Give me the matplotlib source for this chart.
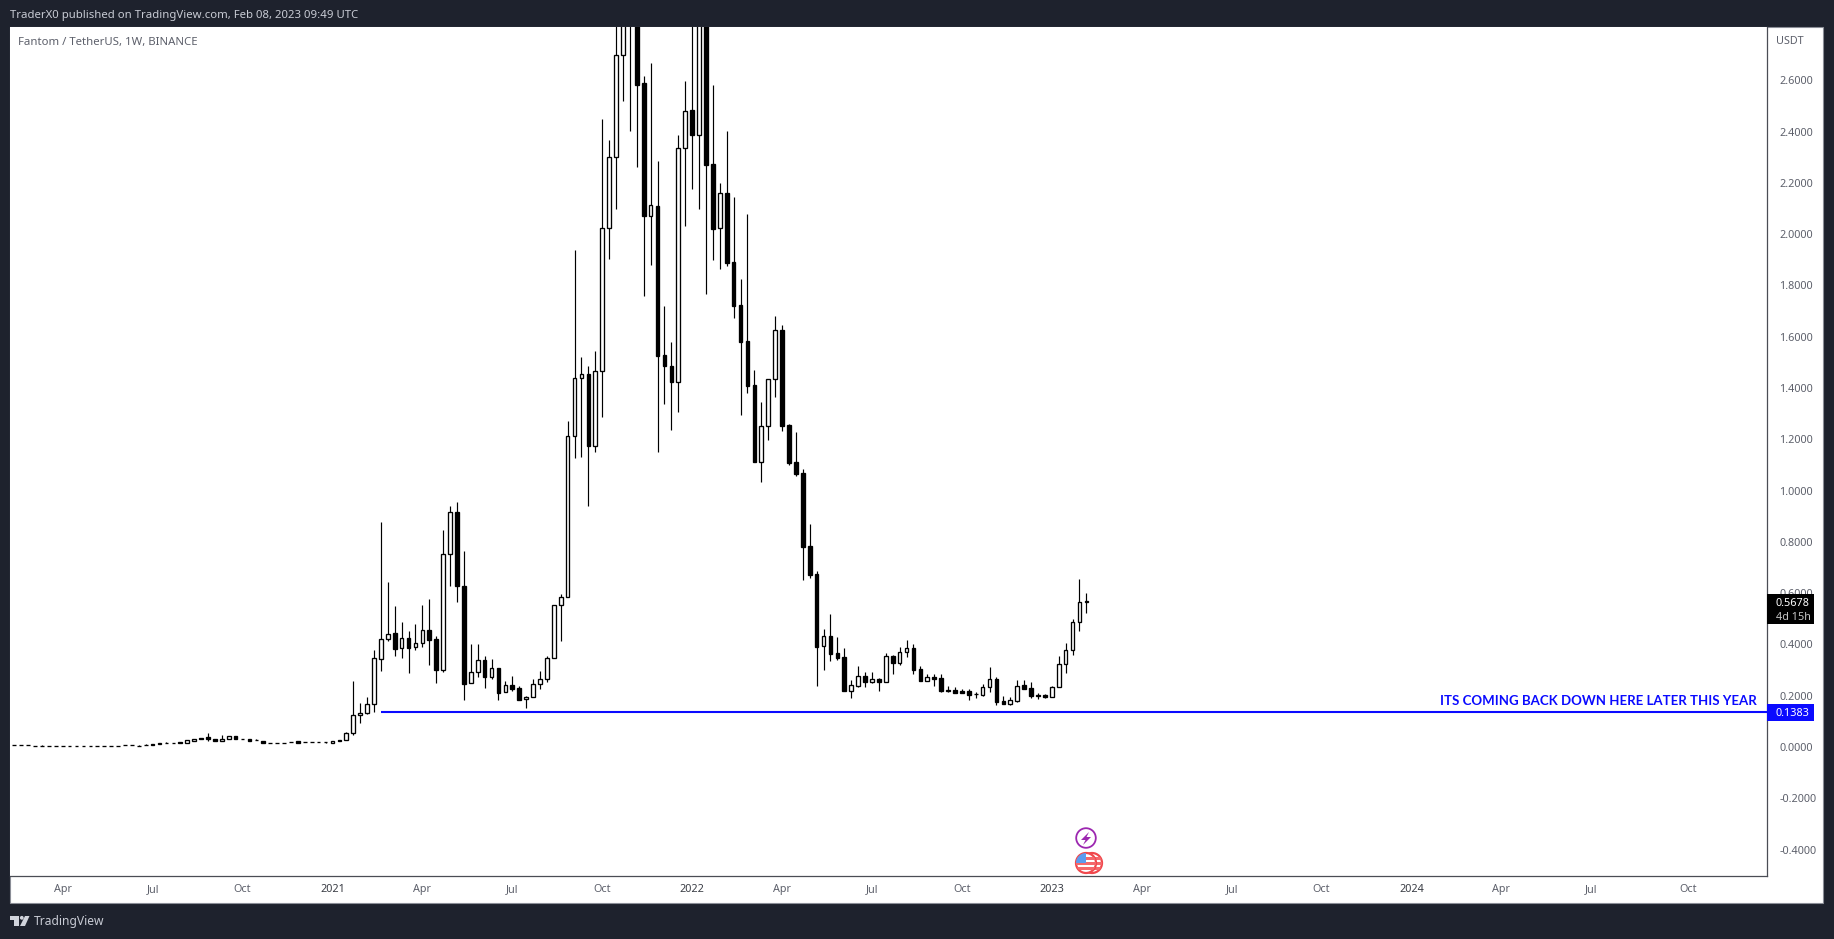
import numpy as np
import pandas as pd
import matplotlib
matplotlib.use('Agg')
import matplotlib.pyplot as plt
import matplotlib.dates as mdates
from matplotlib.patches import Rectangle, Circle, Polygon
from matplotlib.transforms import Affine2D

W, H = 1834, 939
plt.rcParams['font.family'] = ['Noto Sans', 'DejaVu Sans']

# weekly FTM/USDT candles, first one is the week of 2020-02-17
first_week = '2020-02-17'
opens = [
    .009, .009, .0065, .005, .003, .002, .002, .0025, .002, .005,
    .005, .005, .005, .005, .005, .005, .006, .006, .005, .0095,
    .013, .0135, .014, .014, .018, .017, .025, .035, .038, .0325,
    .025, .0325, .0416, .0325, .0325, .0273, .0247, .0169, .0169, .0169,
    .018, .022, .0208, .0208, .0208, .018, .017, .029, .0286, .053,
    .1235, .1313, .1664, .3419, .4199, .4433, .3848, .4238, .3887, .4043,
    .455, .4199, .3016, .7514, .9152, .6279, .2483, .2912, .338, .2743,
    .3068, .2132, .2405, .2288, .1859, .1937, .2444, .2639, .3458, .5525,
    .5837, 1.2129, 1.4391, 1.4547, 1.1739, 1.4664, 2.0241, 2.301, 2.6988, 2.95,
    3.0, 2.5896, 2.0709, 2.1099, 1.5288, 1.4859, 1.4235, 2.3361, 2.4843, 2.3868,
    3.0, 2.2737, 2.0241, 2.1606, 1.8915, 1.7238, 1.5834, 1.4118, 1.1115, 1.2519,
    1.4352, 1.6263, 1.2558, 1.1115, 1.0686, .7839, .6747, .3939, .4329, .3666,
    .351, .2184, .2379, .2769, .2535, .2652, .2535, .3549, .3276, .3705,
    .3861, .3042, .2574, .273, .2691, .2223, .2223, .2184, .2184, .2067,
    .2028, .234, .2652, .1794, .1677, .1794, .2418, .2301, .2028, .2028,
    .195, .234, .3237, .3783, .4875, .5655,
]
closes = [
    .0095, .007, .007, .003, .0035, .0025, .0025, .003, .0025, .003,
    .0055, .003, .003, .0055, .0055, .0055, .0065, .0065, .0055, .0065,
    .009, .014, .0145, .0145, .014, .026, .0325, .03, .03, .023,
    .0325, .0416, .0325, .033, .0247, .026, .017, .0175, .0175, .0175,
    .0185, .017, .021, .021, .018, .0185, .025, .022, .056, .1235,
    .1313, .1664, .3458, .4199, .4394, .3835, .4238, .3874, .4043, .455,
    .4186, .3016, .7514, .9152, .6292, .247, .2912, .338, .2743, .3068,
    .2119, .2405, .2275, .1846, .1937, .2444, .2639, .3458, .5525, .5837,
    1.2129, 1.4391, 1.4547, 1.1739, 1.4664, 2.0241, 2.301, 2.6988, 2.95, 3.15,
    2.5818, 2.0709, 2.1138, 1.5249, 1.4859, 1.4235, 2.3361, 2.4804, 2.3868, 2.95,
    2.2698, 2.0202, 2.1606, 1.8876, 1.7199, 1.5795, 1.4079, 1.1115, 1.2519, 1.4352,
    1.6263, 1.2519, 1.1076, 1.0647, .78, .6708, .39, .4329, .3627, .3471,
    .2184, .2418, .2769, .2535, .2652, .2535, .3549, .3276, .3705, .3861,
    .3003, .2574, .273, .2652, .2184, .2184, .2106, .2106, .2028, .207,
    .234, .2652, .1755, .1677, .1833, .2379, .2262, .1989, .1989, .195,
    .234, .3237, .3783, .4875, .5655, .5678,
]
highs = [
    .0095, .009, .009, .005, .006, .0025, .0025, .005, .0025, .005,
    .0055, .005, .005, .0055, .0055, .0055, .009, .007, .007, .012,
    .013, .014, .0195, .0145, .018, .026, .0325, .035, .056, .0325,
    .048, .043, .043, .033, .0325, .031, .0247, .0175, .0175, .0175,
    .021, .022, .021, .021, .0208, .0185, .025, .029, .0586, .2574,
    .1716, .195, .3783, .8775, .6435, .5499, .4875, .4524, .4797, .5538,
    .5772, .4329, .8463, .9399, .9555, .7644, .4017, .4017, .3549, .3432,
    .3068, .2574, .2769, .2366, .1976, .2652, .2964, .3549, .5525, .5967,
    1.2714, 1.9383, 1.521, 1.4859, 1.5444, 2.4492, 2.3673, 2.95, 3.1, 3.4,
    3.2, 2.6169, 2.6676, 2.2854, 1.7199, 1.5795, 2.3868, 2.5974, 2.9, 3.1,
    3.2, 2.5818, 2.1996, 2.4024, 2.145, 1.8252, 2.0787, 1.4703, 1.3455, 1.4352,
    1.6809, 1.6458, 1.2597, 1.2285, 1.0842, .8697, .6864, .4602, .5187, .429,
    .3861, .2613, .3159, .2925, .2925, .2691, .3666, .3588, .39, .4173,
    .4017, .3159, .2847, .2847, .2847, .2379, .234, .2262, .2262, .2145,
    .2457, .312, .273, .1989, .195, .2613, .2613, .2535, .2106, .2067,
    .2379, .3549, .4056, .4992, .6552, .6006,
]
lows = [
    .009, .007, .0065, .003, .003, .002, .002, .0025, .002, .003,
    .005, .003, .003, .005, .005, .005, .006, .006, .005, .0065,
    .009, .0135, .014, .014, .014, .017, .025, .03, .025, .023,
    .024, .0325, .0325, .03, .0247, .026, .017, .0169, .0169, .0169,
    .018, .017, .0208, .0208, .018, .015, .016, .022, .027, .048,
    .0949, .1274, .1378, .2977, .4147, .3562, .3484, .2899, .3796, .3913,
    .3211, .2509, .2938, .6292, .5668, .1846, .2483, .2743, .2314, .2665,
    .1846, .2132, .2197, .1846, .1534, .1937, .2275, .2548, .3458, .4147,
    .5837, 1.1271, 1.131, .9399, 1.1505, 1.287, 1.9032, 2.0982, 2.5194, 2.4024,
    2.262, 1.7589, 1.8798, 1.1505, 1.3377, 1.2363, 1.3065, 2.0319, 2.1762, 2.0982,
    1.7667, 1.8993, 1.8642, 1.8759, 1.6731, 1.2948, 1.3806, 1.1115, 1.0335, 1.1973,
    1.365, 1.2324, 1.0998, 1.0569, .6513, .6591, .2379, .3003, .3354, .3393,
    .2184, .1911, .234, .234, .2496, .2184, .2535, .2847, .3198, .351,
    .2847, .2574, .2574, .2379, .2145, .2145, .2106, .2106, .1833, .1911,
    .1989, .2145, .1638, .1677, .1638, .1755, .2262, .1911, .1872, .1911,
    .195, .234, .2886, .3588, .4524, .5226,
]

tick_dates = ['2020-04-06', '2020-07-06', '2020-10-05', '2021-01-04', '2021-04-05', '2021-07-05',
              '2021-10-04', '2022-01-03', '2022-04-04', '2022-07-04', '2022-10-03', '2023-01-02',
              '2023-04-03', '2023-07-03', '2023-10-02', '2024-01-01', '2024-04-01', '2024-07-01',
              '2024-10-07']
tick_labels = ['Apr', 'Jul', 'Oct', '2021', 'Apr', 'Jul', 'Oct', '2022', 'Apr', 'Jul', 'Oct', '2023',
               'Apr', 'Jul', 'Oct', '2024', 'Apr', 'Jul', 'Oct']
price_ticks = [-0.4, -0.2, 0.0, 0.2, 0.4, 0.6, 0.8, 1.0, 1.2, 1.4, 1.6, 1.8, 2.0, 2.2, 2.4, 2.6]

level_price = 0.1383
level_start = '2021-02-22'
last_price = 0.5678
note = 'ITS COMING BACK DOWN HERE LATER THIS YEAR'

opens, closes = np.array(opens), np.array(closes)
highs, lows = np.array(highs), np.array(lows)
dates = mdates.date2num(pd.date_range(first_week, periods=len(opens), freq='7D'))

DARK = '#1e222d'
BLUE = '#0a0aff'
TEXT = '#5d606b'

fig = plt.figure(figsize=(W / 100, H / 100), dpi=100, facecolor=DARK)
# pixel coords with the origin top left, for the window chrome
px = Affine2D().scale(1, -1).translate(0, H)


def chrome_rect(x0, y0, x1, y1, color, z=5, **kw):
    r = Rectangle((x0, y0), x1 - x0, y1 - y0, transform=px, facecolor=color, zorder=z, **kw)
    fig.add_artist(r)
    return r


def chrome_text(x, y, s, **kw):
    kw.setdefault('va', 'center')
    kw.setdefault('zorder', 6)
    fig.text(x / W, 1 - y / H, s, **kw)


chrome_rect(10, 27, 1823, 903, 'white', z=-1, edgecolor='#8b8e97', linewidth=0.8)

ax = fig.add_axes([10 / W, 1 - 876 / H, (1767 - 10) / W, (876 - 27) / H])
ax.set_facecolor('white')

# week position of the plot edges, taken from the candle spacing
week = dates[0] + 7 * np.array([-0.622, 253.41])
ax.set_xlim(week[0], week[1])
ax.set_ylim(-0.5031, 2.808)

up = closes >= opens
ax.vlines(dates, lows, highs, color='black', linewidth=0.85, zorder=2)
ax.bar(dates, np.abs(closes - opens), bottom=np.minimum(opens, closes), width=3.7,
       color=np.where(up, 'white', 'black'), edgecolor='black', linewidth=0.95, zorder=3)

ax.hlines(level_price, mdates.datestr2num(level_start), week[1], color=BLUE, linewidth=1.5, zorder=4)
ax.text(0.9944, level_price + 0.040, note, transform=ax.get_yaxis_transform(), ha='right', va='center',
        color=BLUE, fontsize=9.5, fontweight='bold', fontfamily=['Lato', 'DejaVu Sans'], zorder=5)

for s in ['top', 'left']:
    ax.spines[s].set_visible(False)
for s in ['right', 'bottom']:
    ax.spines[s].set_color('#4a4d55')
    ax.spines[s].set_linewidth(0.9)

ax.yaxis.tick_right()
ax.set_yticks(price_ticks)
ax.set_yticklabels([f'{p:.4f}' for p in price_ticks], va='center_baseline')
ax.tick_params(axis='y', length=0, pad=9, labelsize=7.8, labelcolor=TEXT)
ax.set_xticks(mdates.datestr2num(tick_dates))
ax.set_xticklabels(tick_labels)
ax.tick_params(axis='x', length=0, pad=6, labelsize=7.8, labelcolor=TEXT)
for lab in ax.get_xticklabels():
    if lab.get_text().isdigit():
        lab.set_color('#3a3d45')
        lab.set_fontweight('medium')

# header and legend
chrome_text(10, 15.5, 'TraderX0 published on TradingView.com, Feb 08, 2023 09:49 UTC', color='#c8cbd4', fontsize=8.2)
chrome_text(18, 43, 'Fantom / TetherUS, 1W, BINANCE', color=TEXT, fontsize=8.2)
chrome_text(1776, 42, 'USDT', color=TEXT, fontsize=7.8)

# price tags on the axis
chrome_rect(1767, 594, 1814, 624, 'black')
chrome_text(1776, 604, f'{last_price:.4f}', color='white', fontsize=7.8, fontweight='bold')
chrome_text(1776, 617.5, '4d 15h', color='#c4c4c4', fontsize=7.8)
chrome_rect(1767, 704, 1814, 721, BLUE)
chrome_text(1776, 713.5, f'{level_price:.4f}', color='white', fontsize=7.8, fontweight='bold')

# event icons under the last candles
fig.add_artist(Circle((1086, 838), 9.8, transform=px, facecolor='white', edgecolor='#9c27b0', linewidth=1.3, zorder=6))
fig.add_artist(Polygon([(1089, 832), (1081, 840), (1085.5, 840), (1083, 845), (1091, 837), (1086.5, 837)],
                       transform=px, facecolor='#9c27b0', edgecolor='none', zorder=7))
for cx, z in [(1092, 6), (1086, 8)]:
    disc = Circle((cx, 863), 10, transform=px, facecolor='white', edgecolor='#f0484d', linewidth=1.6, zorder=z)
    fig.add_artist(disc)
    for sy in [857, 862, 867]:
        st = chrome_rect(cx - 10, sy, cx + 10, sy + 2.6, '#f4686c', z=z + 0.1)
        st.set_clip_path(disc)
    if cx == 1086:
        c = chrome_rect(1076, 853, 1086, 863, '#5b9cf0', z=z + 0.2)
        c.set_clip_path(disc)

# footer logo
logo = '#d1d4dc'
chrome_rect(10, 916, 19, 919.5, logo)
chrome_rect(14, 919.5, 19, 926, logo)
fig.add_artist(Circle((21.8, 917.8), 1.9, transform=px, facecolor=logo, edgecolor='none', zorder=5))
fig.add_artist(Polygon([(25, 916), (29.5, 916), (25, 926), (20, 926)], transform=px, facecolor=logo,
                       edgecolor='none', zorder=5))
chrome_text(34, 922, 'TradingView', color='#c8cbd4', fontsize=8.7)

fig.savefig('out.png', dpi=100, facecolor=DARK)
